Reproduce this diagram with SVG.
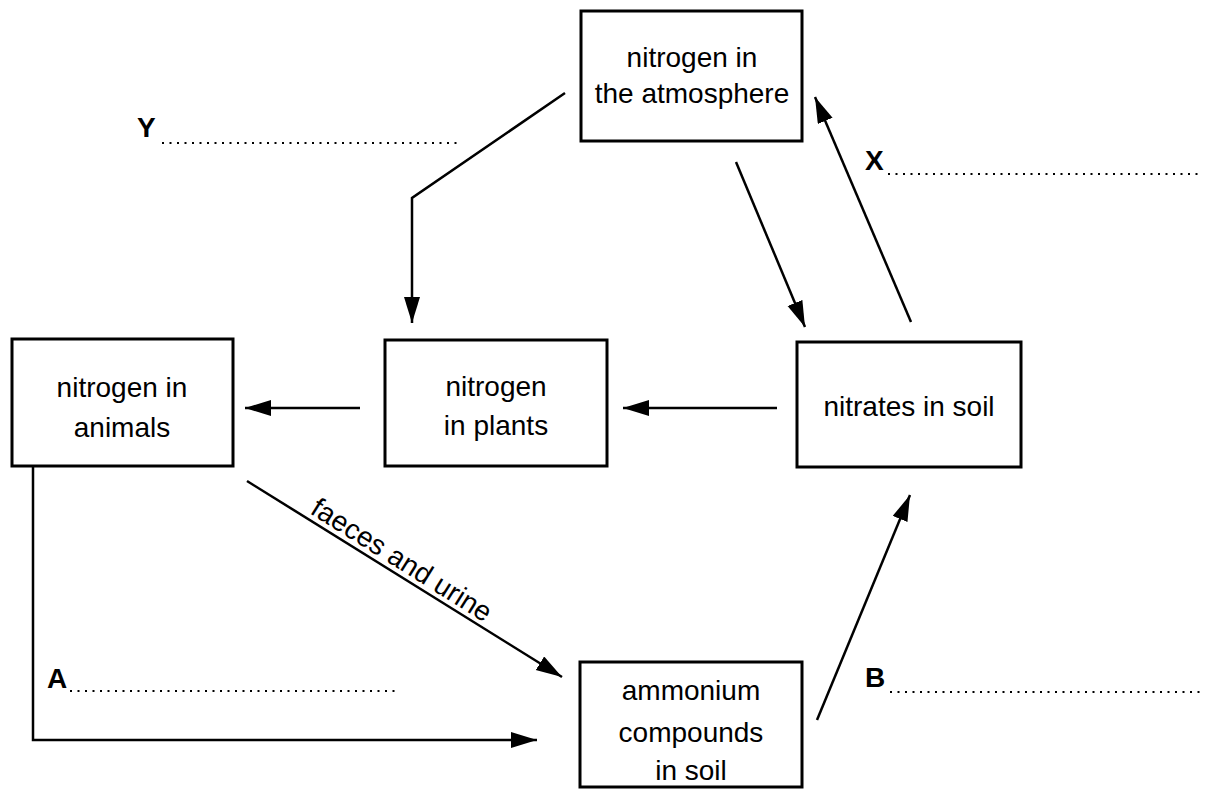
<svg xmlns="http://www.w3.org/2000/svg" width="1211" height="789" viewBox="0 0 1211 789">
<style>
.box{fill:#fff;stroke:#000;stroke-width:3}
.t{font-family:"Liberation Sans",Arial,sans-serif;font-size:28px;fill:#000;text-anchor:middle}
.lbl{font-family:"Liberation Sans",Arial,sans-serif;font-size:28px;font-weight:bold;fill:#000}
.ln{fill:none;stroke:#000;stroke-width:2.5}
.dot{fill:none;stroke:#000;stroke-width:2;stroke-dasharray:2 5.5}
</style>
<defs>
<marker id="ah" markerUnits="userSpaceOnUse" markerWidth="28" markerHeight="18" refX="26" refY="8" orient="auto">
<path d="M0,0 L26,8 L0,16 Z" fill="#000"/>
</marker>
</defs>
<rect width="1211" height="789" fill="#fff"/>
<g id="connectors">
<polyline class="ln" points="565,93 412,198 412,323" marker-end="url(#ah)"/>
<line class="ln" x1="736" y1="162" x2="805" y2="327" marker-end="url(#ah)"/>
<line class="ln" x1="911" y1="322" x2="815" y2="97" marker-end="url(#ah)"/>
<line class="ln" x1="360" y1="408" x2="245" y2="408" marker-end="url(#ah)"/>
<line class="ln" x1="777" y1="408" x2="623" y2="408" marker-end="url(#ah)"/>
<line class="ln" x1="247" y1="481" x2="562" y2="677" marker-end="url(#ah)"/>
<polyline class="ln" points="33,466 33,740 537,740" marker-end="url(#ah)"/>
<line class="ln" x1="817" y1="720" x2="910" y2="495" marker-end="url(#ah)"/>
<text class="t" style="text-anchor:start" transform="translate(309,513) rotate(32)">faeces and urine</text>
</g>
<g id="atmosphere">
<rect class="box" x="581" y="11" width="221" height="130"/>
<text class="t" x="692" y="67">nitrogen in</text>
<text class="t" x="692" y="103">the atmosphere</text>
</g>
<g id="animals">
<rect class="box" x="12" y="339" width="221" height="127"/>
<text class="t" x="122" y="397">nitrogen in</text>
<text class="t" x="122" y="437">animals</text>
</g>
<g id="plants">
<rect class="box" x="385" y="340" width="222" height="126"/>
<text class="t" x="496" y="396">nitrogen</text>
<text class="t" x="496" y="435">in plants</text>
</g>
<g id="nitrates">
<rect class="box" x="797" y="342" width="224" height="125"/>
<text class="t" x="909" y="416">nitrates in soil</text>
</g>
<g id="ammonium">
<rect class="box" x="580" y="662" width="222" height="125"/>
<text class="t" x="691" y="700">ammonium</text>
<text class="t" x="691" y="742">compounds</text>
<text class="t" x="691" y="780">in soil</text>
</g>
<g id="labels">
<text class="lbl" x="137" y="137">Y</text>
<line class="dot" x1="162" y1="143" x2="460" y2="143"/>
<text class="lbl" x="865" y="170">X</text>
<line class="dot" x1="888" y1="174" x2="1202" y2="174"/>
<text class="lbl" x="47" y="688">A</text>
<line class="dot" x1="70" y1="691" x2="398" y2="691"/>
<text class="lbl" x="865" y="687">B</text>
<line class="dot" x1="890" y1="692" x2="1205" y2="692"/>
</g>
</svg>
